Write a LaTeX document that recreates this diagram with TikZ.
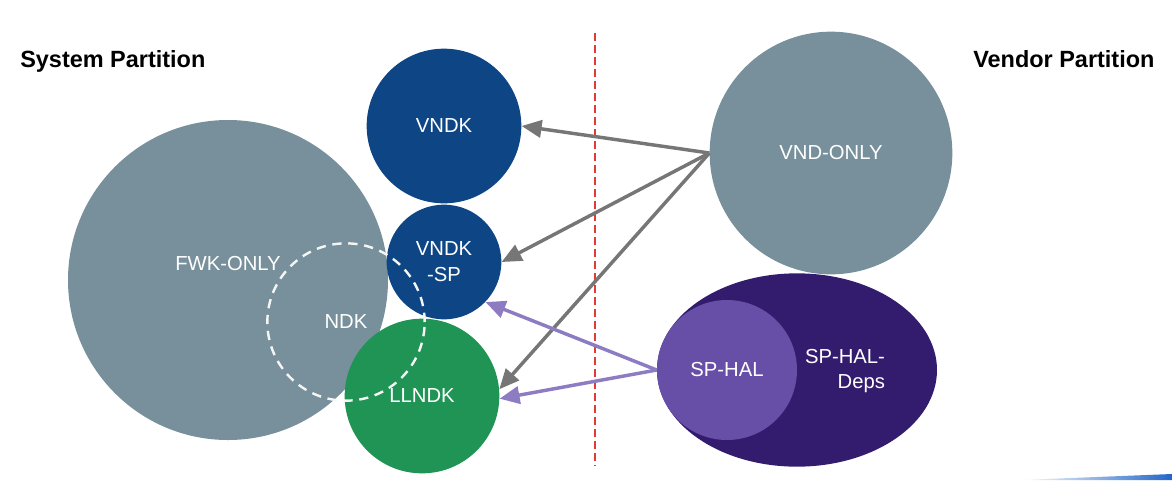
\documentclass[tikz,border=0pt]{standalone}
\usepackage{fontspec}
\setmainfont{Liberation Sans}
\definecolor{fwkgray}{RGB}{119,144,155}
\definecolor{vndkblue}{RGB}{13,69,133}
\definecolor{llndkgreen}{RGB}{31,148,85}
\definecolor{halpurple}{RGB}{103,78,167}
\definecolor{depspurple}{RGB}{51,28,110}
\definecolor{arrowgray}{RGB}{118,118,118}
\definecolor{arrowpurple}{RGB}{142,124,195}
\definecolor{divred}{RGB}{229,57,53}
\definecolor{barblue}{RGB}{35,102,200}
\usetikzlibrary{shapes.geometric, arrows.meta}

\begin{document}
\begin{tikzpicture}[x=0.75pt, y=-0.75pt,
  part/.style={circle, inner sep=0pt, text=white, align=center, font=\fontsize{15.2}{19.5}\selectfont},
  lbl/.style={text=white, align=right, font=\fontsize{15.2}{19}\selectfont},
  header/.style={anchor=base west, font=\fontsize{17.6}{20}\selectfont\bfseries},
  dep/.style={line width=2.6pt, -{Triangle[length=15pt, width=13pt]}},
]
  \useasboundingbox (0,0) rectangle (1172,480);

  % partition titles and divider
  \node[header, inner sep=0pt] (systitle) at (20,67) {System Partition};
  \node[header, inner sep=0pt] (vndtitle) at (973,67) {Vendor Partition};
  \coordinate (divtop) at (595,33);
  \coordinate (divbot) at (595,466);
  \draw[divred, line width=0.8pt, dash pattern=on 6pt off 3pt] (divtop) -- (divbot);

  % system partition
  \node[part, fill=fwkgray, minimum size=240pt] (fwk) at (228,280) {};
  \node[lbl] (fwklbl) at (228,264) {FWK-ONLY};
  \node[part, fill=vndkblue, minimum size=116pt] (vndk) at (444,126) {VNDK};
  \node[part, fill=vndkblue, minimum size=86pt] (vndksp) at (444,262) {VNDK\\-SP};
  \node[part, fill=llndkgreen, minimum size=116pt] (llndk) at (422,396) {LLNDK};
  \node[part, draw=white!92!gray, line width=1.8pt, dash pattern=on 7pt off 5pt,
        minimum size=118pt] (ndk) at (346,322) {NDK};

  % vendor partition
  \node[ellipse, fill=depspurple, inner sep=0pt, minimum width=210pt, minimum height=145pt] (deps) at (797,370) {};
  \node[lbl] (depslbl) at (845,371) {SP-HAL-\\Deps};
  \node[part, fill=halpurple, minimum size=105pt] (sphal) at (727,370) {SP-HAL};
  \node[part, fill=fwkgray, minimum size=182pt] (vnd) at (831,153) {VND-ONLY};

  % dependencies
  \draw[dep, arrowgray] (vnd.west) -- (vndk.east);
  \draw[dep, arrowgray] (vnd.west) -- (vndksp.east);
  \draw[dep, arrowgray] (vnd.west) -- (llndk.5);
  \draw[dep, arrowpurple] (sphal.west) -- (vndksp.-44);
  \draw[dep, arrowpurple] (sphal.west) -- (llndk.-2);

  % corner bar
  \shade[left color=white, right color=barblue] (1020,480) -- (1172,474) -- (1172,480) -- cycle;
\end{tikzpicture}
\end{document}
